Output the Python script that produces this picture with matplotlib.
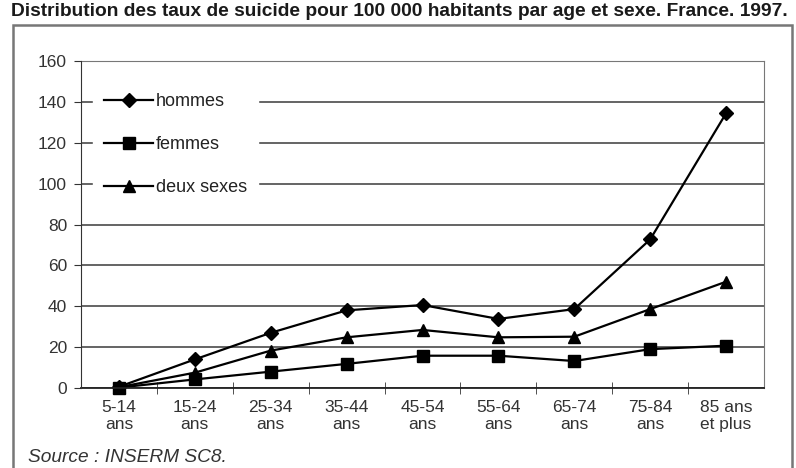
import numpy as np
import matplotlib
matplotlib.use("Agg")
from matplotlib import pyplot as plt
from matplotlib import rc
from matplotlib.patches import Rectangle

rc('font', family=['Liberation Sans', 'DejaVu Sans'], size=12.5)

# Taux de suicide pour 100 000 habitants, France 1997
ages = ['5-14\nans', '15-24\nans', '25-34\nans', '35-44\nans', '45-54\nans',
        '55-64\nans', '65-74\nans', '75-84\nans', '85 ans\net plus']
hommes = [0.6, 14.0, 27.0, 38.0, 40.6, 33.8, 38.6, 72.7, 134.4]
femmes = [0.2, 4.2, 8.0, 11.8, 15.8, 15.8, 13.2, 19.0, 20.7]
deux_sexes = [0.4, 7.5, 18.3, 24.8, 28.4, 24.8, 25.1, 38.6, 52.0]
yticks = [0, 20, 40, 60, 80, 100, 120, 140, 160]

fig = plt.figure(figsize=(7.96, 4.68), dpi=100)
ax = fig.add_axes([81 / 796, 1 - 388 / 468, 683 / 796, 327 / 468])

x = np.arange(len(ages))
line_kw = dict(color='black', lw=1.6, clip_on=False)
ax.plot(x, hommes, marker='D', ms=7, label='hommes', **line_kw)
ax.plot(x, femmes, marker='s', ms=8, label='femmes', **line_kw)
ax.plot(x, deux_sexes, marker='^', ms=8.5, label='deux sexes', **line_kw)

ax.set_xlim(-0.5, len(ages) - 0.5)
ax.set_ylim(0, 160)
ax.set_yticks(yticks)
ax.set_xticks(x)
ax.set_xticklabels(ages, color='#333333', linespacing=1.15)
ax.set_xticks(np.arange(0.5, len(ages) - 1), minor=True)
ax.tick_params(axis='x', which='major', length=0, pad=9)
ax.tick_params(axis='x', which='minor', length=9, direction='inout', color='#333333')
ax.tick_params(axis='y', length=5, color='#333333', labelcolor='#333333', pad=5)

ax.yaxis.grid(True, color='#3a3a3a', lw=1.1)
ax.set_axisbelow(True)
for side in ['left', 'right', 'top']:
    ax.spines[side].set_color('#777777')
ax.spines['left'].set_color('#333333')
ax.spines['left'].set_zorder(6)
ax.spines['bottom'].set_color('#222222')
ax.spines['bottom'].set_linewidth(1.3)

leg = ax.legend(loc='upper left', bbox_to_anchor=(0.018, 0.935), frameon=True,
                fancybox=False, edgecolor='white', framealpha=1, fontsize=13,
                handlelength=2.7, handletextpad=0.17, labelspacing=1.45,
                borderpad=0.6, borderaxespad=0.0)
for t in leg.get_texts():
    t.set_color('#222222')

fig.patches.append(Rectangle((13 / 796, -0.02), 779 / 796, 1 - 25 / 468 + 0.02,
                             transform=fig.transFigure, fill=False,
                             edgecolor='#777777', lw=1.8))

fig.text(399 / 796, 1 - 11 / 468, 'Distribution des taux de suicide pour 100 000 habitants par age et sexe. France. 1997.',
         ha='center', va='center', fontsize=13.8, fontweight='bold', color='#1a1a1a')
fig.text(28 / 796, 1 - 457 / 468, 'Source : INSERM SC8.', ha='left', va='center',
         fontsize=13.8, style='italic', color='#333333')

fig.savefig('out.png', dpi=100)
